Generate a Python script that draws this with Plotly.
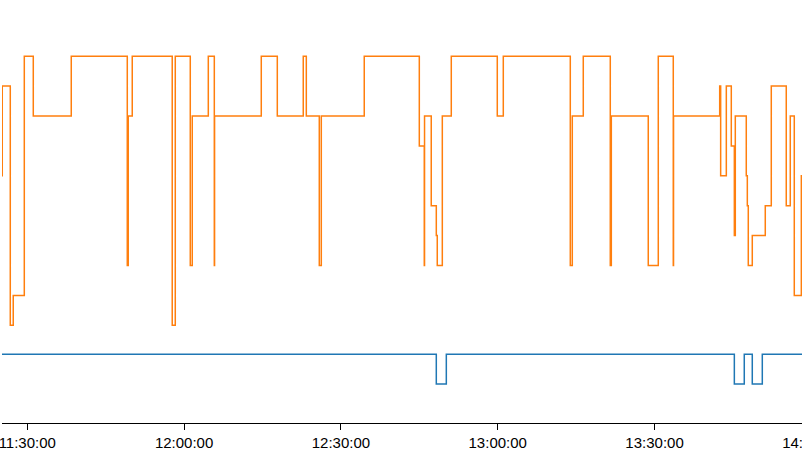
import plotly.graph_objects as go

DAY = "2017-01-01 "

# Orange series: step changes (time, level)
orange_times = [
    "11:25:00", "11:25:13", "11:26:45", "11:27:19", "11:29:26", "11:31:09",
    "11:38:25", "11:49:08", "11:49:19", "11:50:05", "11:57:44", "11:58:19",
    "12:01:11", "12:01:34", "12:04:38", "12:05:47", "12:05:50", "12:14:46",
    "12:17:50", "12:22:48", "12:23:23", "12:25:52", "12:26:15", "12:34:28",
    "12:45:00", "12:45:57", "12:46:00", "12:47:17", "12:48:15", "12:48:26",
    "12:49:24", "12:51:07", "12:59:55", "13:01:04", "13:13:53", "13:14:16",
    "13:16:22", "13:21:32", "13:21:44", "13:28:48", "13:30:43", "13:33:35",
    "13:33:38", "13:42:28", "13:42:39", "13:43:44", "13:44:41", "13:45:16",
    "13:45:27", "13:47:33", "13:47:45", "13:47:56", "13:48:42", "13:51:11",
    "13:52:20", "13:55:12", "13:55:58", "13:56:44", "13:58:05", "14:04:00",
]
orange_levels = [
    5, 8, 0, 1, 9, 7,
    9, 2, 7, 9, 0, 9,
    2, 7, 9, 2, 7, 9,
    7, 9, 7, 2, 7, 9,
    6, 2, 7, 4, 3, 2,
    7, 9, 7, 9, 2, 7,
    9, 2, 7, 2, 9, 2,
    7, 8, 5, 8, 6, 3,
    7, 5, 4, 2, 3, 4,
    8, 4, 7, 1, 5, 5,
]

# Blue series: step changes (time, state)
blue_times = [
    "11:25:00", "12:48:15", "12:50:10", "13:45:16", "13:47:10",
    "13:48:42", "13:50:37", "14:04:00",
]
blue_states = [1, 0, 1, 0, 1, 0, 1, 1]

tick_start = "11:30:00"
x_start = "11:25:10"
x_end = "14:03:57"
tick_step_ms = 30 * 60 * 1000

fig = go.Figure()
fig.add_trace(go.Scatter(
    x=[DAY + t for t in orange_times], y=orange_levels,
    mode="lines", line=dict(shape="hv", color="#ff7f0e", width=1.5),
    yaxis="y", showlegend=False, hoverinfo="skip"))
fig.add_trace(go.Scatter(
    x=[DAY + t for t in blue_times], y=blue_states,
    mode="lines", line=dict(shape="hv", color="#1f77b4", width=1.5),
    yaxis="y2", showlegend=False, hoverinfo="skip"))

fig.update_layout(
    width=840, height=451,
    margin=dict(l=2, r=8, t=26, b=28, autoexpand=False),
    paper_bgcolor="white", plot_bgcolor="white",
    font=dict(family="Liberation Sans, Arial, sans-serif", size=15, color="black"),
    xaxis=dict(
        type="date", range=[DAY + x_start, DAY + x_end],
        tick0=DAY + tick_start, dtick=tick_step_ms, tickformat="%H:%M:%S",
        showgrid=False, zeroline=False, showline=True, linecolor="black",
        linewidth=1, ticks="outside", ticklen=6, tickcolor="black",
        ticklabeloverflow="allow", automargin=False,
    ),
    yaxis=dict(visible=False, range=[-3.268, 10.01], fixedrange=True,
               automargin=False),
    yaxis2=dict(visible=False, range=[-1.313, 12.054], overlaying="y",
                automargin=False),
)

fig.write_html(
    "out.html",
    config={"displayModeBar": False, "staticPlot": True},
    post_script="document.body.style.margin='0';document.body.style.overflow='hidden';",
)
